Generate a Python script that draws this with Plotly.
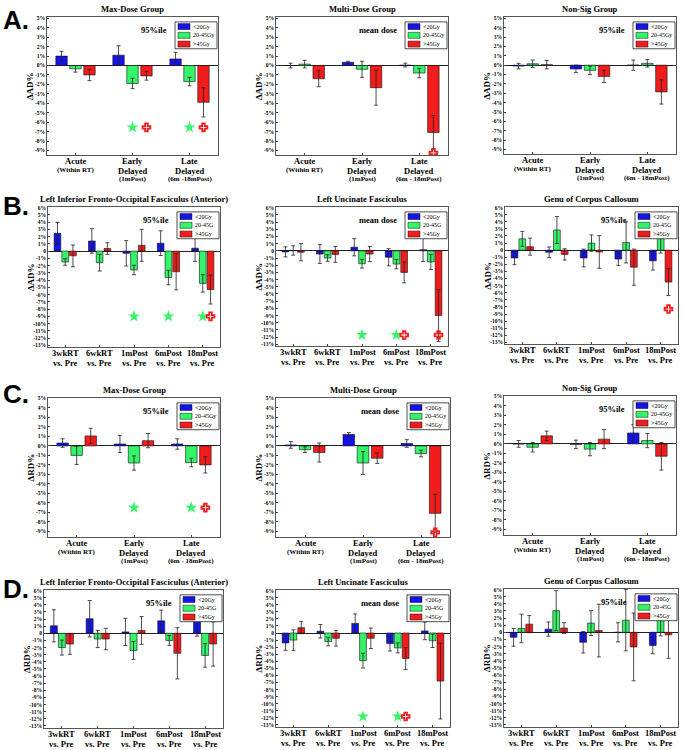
import plotly.graph_objects as go

W, H = 684, 750
SERIF = "Liberation Serif"
SANS = "Liberation Sans"
BLUE, GREEN, RED = "#1414e6", "#36f46a", "#f21c1c"

# ---------------- categories / tick labels (one list of lines per category) ----------------
phase_ticks = [["Acute", "(Within RT)"],
               ["Early", "Delayed", "(1mPost)"],
               ["Late", "Delayed", "(6m - 18mPost)"]]
phase_ticks_a1 = [["Acute", "(Within RT)"],
                  ["Early", "Delayed", "(1mPost)"],
                  ["Late", "Delayed", "(6m -18mPost)"]]
time_ticks = [["3wkRT", "vs. Pre"], ["6wkRT", "vs. Pre"], ["1mPost", "vs. Pre"],
              ["6mPost", "vs. Pre"], ["18mPost", "vs. Pre"]]
legend_labels_ac = ["<20Gy", "20-45Gy", ">45Gy"]
legend_labels_bd = ["<20Gy", "20-45G", ">45Gy"]

# ---------------- data: A row (ΔAD%, dose groups) ----------------
A1_lt20 = [1.0, 1.1, 0.7];      A1_lt20_err = [0.5, 1.0, 0.7]
A1_mid = [-0.35, -1.9, -1.7];   A1_mid_err = [0.35, 0.55, 0.45]
A1_gt45 = [-1.0, -1.1, -3.9];   A1_gt45_err = [0.6, 0.45, 1.55]
A1_sig_green = [2, 3]; A1_sig_red = [2, 3]; A1_sig_level = -6.55

A2_lt20 = [0.0, 0.35, 0.05];    A2_lt20_err = [0.25, 0.1, 0.2]
A2_mid = [0.15, -0.4, -0.8];    A2_mid_err = [0.4, 0.85, 0.5]
A2_gt45 = [-1.4, -2.35, -7.1];  A2_gt45_err = [0.85, 1.85, 1.8]
A2_sig_green = []; A2_sig_red = [3]; A2_sig_level = -9.25

A3_lt20 = [-0.1, -0.4, 0.0];    A3_lt20_err = [0.3, 0.4, 0.55]
A3_mid = [0.15, -0.55, 0.2];    A3_mid_err = [0.4, 0.45, 0.4]
A3_gt45 = [0.05, -1.2, -2.85];  A3_gt45_err = [0.45, 0.65, 1.3]
A3_sig_green = []; A3_sig_red = []; A3_sig_level = 0

# ---------------- data: B row (ΔAD%, tracts) ----------------
B1_lt20 = [2.45, 1.4, -0.3, 1.1, 0.4];      B1_lt20_err = [1.5, 1.7, 1.75, 1.7, 1.8]
B1_mid = [-1.5, -1.6, -2.6, -3.65, -4.45];  B1_mid_err = [0.45, 1.15, 0.65, 1.0, 1.2]
B1_gt45 = [-0.65, 0.35, 0.8, -2.85, -5.3];  B1_gt45_err = [1.5, 0.8, 2.2, 2.5, 2.0]
B1_sig_green = [3, 4, 5]; B1_sig_red = [5]; B1_sig_level = -9.0

B2_lt20 = [-0.15, -0.45, 0.5, -0.9, 0.15];  B2_lt20_err = [0.7, 1.3, 1.2, 1.2, 1.65]
B2_mid = [0.05, -1.0, -1.8, -1.85, -1.55];  B2_mid_err = [0.65, 0.45, 0.6, 0.65, 1.05]
B2_gt45 = [-0.2, -0.5, -0.45, -3.0, -9.0];  B2_gt45_err = [1.2, 1.1, 1.05, 1.45, 3.6]
B2_sig_green = [3, 4]; B2_sig_red = [4, 5]; B2_sig_level = -11.7

B3_lt20 = [-1.1, -0.3, -1.1, -1.25, -1.5];  B3_lt20_err = [0.95, 0.75, 1.25, 0.9, 1.3]
B3_mid = [1.6, 2.85, 1.0, 1.1, 2.3];        B3_mid_err = [1.05, 1.9, 1.15, 2.9, 2.7]
B3_gt45 = [0.5, -0.6, -0.25, -2.4, -4.5];   B3_gt45_err = [1.2, 0.8, 2.3, 2.55, 1.9]
B3_sig_green = []; B3_sig_red = [5]; B3_sig_level = -8.3

# ---------------- data: C row (ΔRD%, dose groups) ----------------
C1_lt20 = [0.3, 0.2, 0.2];      C1_lt20_err = [0.45, 0.9, 0.55]
C1_mid = [-1.0, -1.8, -1.75];   C1_mid_err = [0.95, 0.75, 0.45]
C1_gt45 = [1.05, 0.55, -2.0];   C1_gt45_err = [0.8, 0.75, 0.85]
C1_sig_green = [2, 3]; C1_sig_red = [3]; C1_sig_level = -6.5

C2_lt20 = [0.1, 1.2, 0.25];     C2_lt20_err = [0.35, 0.2, 0.4]
C2_mid = [-0.4, -1.8, -0.8];    C2_mid_err = [0.3, 1.2, 0.35]
C2_gt45 = [-0.7, -1.3, -7.1];   C2_gt45_err = [1.0, 0.55, 2.0]
C2_sig_green = []; C2_sig_red = [3]; C2_sig_level = -9.1

C3_lt20 = [0.0, -0.05, 1.15];   C3_lt20_err = [0.35, 0.45, 0.9]
C3_mid = [-0.35, -0.55, 0.35];  C3_mid_err = [0.5, 0.7, 0.75]
C3_gt45 = [0.85, 0.5, -1.3];    C3_gt45_err = [0.5, 1.0, 1.45]
C3_sig_green = []; C3_sig_red = []; C3_sig_level = 0

# ---------------- data: D row (ΔRD%, tracts) ----------------
D1_lt20 = [1.05, 2.05, 0.2, 1.75, 2.2];     D1_lt20_err = [2.25, 2.55, 1.9, 1.5, 2.6]
D1_mid = [-2.0, -0.8, -2.4, -1.0, -3.1];    D1_mid_err = [1.05, 1.2, 1.25, 0.7, 1.65]
D1_gt45 = [-1.5, -0.8, 0.4, -2.8, -1.5];    D1_gt45_err = [1.45, 1.5, 1.95, 3.6, 3.1]
D1_sig_green = []; D1_sig_red = []; D1_sig_level = 0

D2_lt20 = [-1.4, 0.25, 1.35, -1.5, 0.3];    D2_lt20_err = [1.05, 0.95, 1.35, 1.05, 1.25]
D2_mid = [-1.0, -1.2, -3.9, -2.1, -1.1];    D2_mid_err = [1.45, 0.6, 1.05, 0.7, 0.95]
D2_gt45 = [0.75, -0.75, -0.75, -3.6, -6.8]; D2_gt45_err = [0.85, 1.1, 1.45, 1.55, 5.35]
D2_sig_green = [3, 4]; D2_sig_red = [4]; D2_sig_level = -11.8

D3_lt20 = [-0.7, 0.45, -1.4, 0.0, -1.85];   D3_lt20_err = [1.25, 1.0, 1.5, 1.35, 1.15]
D3_mid = [0.55, 3.05, 1.3, 1.7, 2.2];       D3_mid_err = [2.0, 2.8, 1.75, 4.3, 2.7]
D3_gt45 = [1.15, 0.6, 0.25, -2.05, -0.35];  D3_gt45_err = [1.2, 0.75, 3.7, 4.75, 3.3]
D3_sig_green = []; D3_sig_red = []; D3_sig_level = 0

# ---------------- panel layout (pixel boxes: left, right, top, bottom) ----------------
panels = [
    dict(box=(47, 218, 14, 153), ticks=phase_ticks_a1, title="Max-Dose Group", note="95%ile",
         yt="ΔAD%", yr=(-9.5, 5.15), ylo=-9, yhi=5, zero="0%", leg=legend_labels_ac,
         s=(A1_lt20, A1_lt20_err, A1_mid, A1_mid_err, A1_gt45, A1_gt45_err),
         sig=(A1_sig_green, A1_sig_red, A1_sig_level)),
    dict(box=(276, 448, 14, 153), ticks=phase_ticks, title="Multi-Dose Group", note="mean dose",
         yt="ΔAD%", yr=(-9.5, 5.15), ylo=-9, yhi=5, zero="0%", leg=legend_labels_ac,
         s=(A2_lt20, A2_lt20_err, A2_mid, A2_mid_err, A2_gt45, A2_gt45_err),
         sig=(A2_sig_green, A2_sig_red, A2_sig_level)),
    dict(box=(504, 676, 14, 152), ticks=phase_ticks, title="Non-Sig Group", note="95%ile",
         yt="ΔAD%", yr=(-9.5, 5.15), ylo=-9, yhi=5, zero="0%", leg=legend_labels_ac,
         s=(A3_lt20, A3_lt20_err, A3_mid, A3_mid_err, A3_gt45, A3_gt45_err),
         sig=(A3_sig_green, A3_sig_red, A3_sig_level)),
    dict(box=(48, 220, 205, 346), ticks=time_ticks, title="Left Inferior Fronto-Occipital Fasciculus (Anterior)",
         note="95%ile", yt="ΔAD%", yr=(-13.25, 6.1), ylo=-13, yhi=6, zero="0", leg=legend_labels_bd,
         s=(B1_lt20, B1_lt20_err, B1_mid, B1_mid_err, B1_gt45, B1_gt45_err),
         sig=(B1_sig_green, B1_sig_red, B1_sig_level)),
    dict(box=(276, 448, 205, 345), ticks=time_ticks, title="Left Uncinate Fasciculus", note="mean dose",
         yt="ΔAD%", yr=(-13.25, 6.1), ylo=-13, yhi=6, zero="0", leg=legend_labels_bd,
         s=(B2_lt20, B2_lt20_err, B2_mid, B2_mid_err, B2_gt45, B2_gt45_err),
         sig=(B2_sig_green, B2_sig_red, B2_sig_level)),
    dict(box=(505, 678, 205, 343), ticks=time_ticks, title="Genu of Corpus Callosum", note="95%ile",
         yt="ΔAD%", yr=(-13.25, 6.1), ylo=-13, yhi=6, zero="0", leg=legend_labels_bd,
         s=(B3_lt20, B3_lt20_err, B3_mid, B3_mid_err, B3_gt45, B3_gt45_err),
         sig=(B3_sig_green, B3_sig_red, B3_sig_level)),
    dict(box=(48, 220, 397, 537), ticks=phase_ticks, title="Max-Dose Group", note="95%ile",
         yt="ΔRD%", yr=(-9.6, 5.05), ylo=-9, yhi=5, zero="0%", leg=legend_labels_ac,
         s=(C1_lt20, C1_lt20_err, C1_mid, C1_mid_err, C1_gt45, C1_gt45_err),
         sig=(C1_sig_green, C1_sig_red, C1_sig_level)),
    dict(box=(276, 450, 397, 537), ticks=phase_ticks, title="Multi-Dose Group", note="mean dose",
         yt="ΔRD%", yr=(-9.6, 5.05), ylo=-9, yhi=5, zero="0%", leg=legend_labels_ac,
         s=(C2_lt20, C2_lt20_err, C2_mid, C2_mid_err, C2_gt45, C2_gt45_err),
         sig=(C2_sig_green, C2_sig_red, C2_sig_level)),
    dict(box=(504, 676, 395, 535), ticks=phase_ticks, title="Non-Sig Group", note="95%ile",
         yt="ΔRD%", yr=(-9.6, 5.05), ylo=-9, yhi=5, zero="0%", leg=legend_labels_ac,
         s=(C3_lt20, C3_lt20_err, C3_mid, C3_mid_err, C3_gt45, C3_gt45_err),
         sig=(C3_sig_green, C3_sig_red, C3_sig_level)),
    dict(box=(44, 223, 590, 729), ticks=time_ticks, title="Left Inferior Fronto-Occipital Fasciculus (Anterior)",
         note="95%ile", yt="ΔRD%", yr=(-13.3, 6.1), ylo=-13, yhi=6, zero="0", leg=legend_labels_bd,
         s=(D1_lt20, D1_lt20_err, D1_mid, D1_mid_err, D1_gt45, D1_gt45_err),
         sig=(D1_sig_green, D1_sig_red, D1_sig_level)),
    dict(box=(276, 450, 590, 728), ticks=time_ticks, title="Left Uncinate Fasciculus", note="mean dose",
         yt="ΔRD%", yr=(-13.3, 6.1), ylo=-13, yhi=6, zero="0", leg=legend_labels_bd,
         s=(D2_lt20, D2_lt20_err, D2_mid, D2_mid_err, D2_gt45, D2_gt45_err),
         sig=(D2_sig_green, D2_sig_red, D2_sig_level)),
    dict(box=(504, 678, 589, 728), ticks=time_ticks, title="Genu of Corpus Callosum", note="95%ile",
         yt="ΔRD%", yr=(-13.3, 6.1), ylo=-13, yhi=6, zero="0", leg=legend_labels_bd,
         s=(D3_lt20, D3_lt20_err, D3_mid, D3_mid_err, D3_gt45, D3_gt45_err),
         sig=(D3_sig_green, D3_sig_red, D3_sig_level)),
]

fig = go.Figure()
layout = {}
shapes = []
annots = []


def px(x):
    return x / W


def py(y):
    return 1 - y / H


MAIN_FS, SMALL_FS = 8.5, 7

for i, p in enumerate(panels, start=1):
    l, r, t, b = p["box"]
    sfx = "" if i == 1 else str(i)
    xr, yr_ = "x" + sfx, "y" + sfx
    n = len(p["ticks"])
    pitch = 0.245 if n == 3 else 0.225
    bw = 0.2 if n == 3 else 0.195
    cats = list(range(1, n + 1))
    vals = p["s"]
    for k, col in enumerate([BLUE, GREEN, RED]):
        fig.add_trace(go.Bar(
            x=cats, y=vals[2 * k], xaxis=xr, yaxis=yr_,
            width=bw, offset=(k - 1) * pitch - bw / 2,
            marker=dict(color=col, line=dict(color="#111", width=0.6)),
            error_y=dict(type="data", array=vals[2 * k + 1], color="#222",
                         thickness=0.8, width=2),
            showlegend=False, hoverinfo="skip"))
    g, rd, lev = p["sig"]
    if g:
        fig.add_trace(go.Scatter(x=list(g), y=[lev] * len(g), xaxis=xr, yaxis=yr_, mode="markers",
                                 marker=dict(symbol="star", size=9, color=GREEN,
                                             line=dict(width=0)),
                                 showlegend=False, hoverinfo="skip"))
    if rd:
        fig.add_trace(go.Scatter(x=[c + pitch for c in rd], y=[lev] * len(rd), xaxis=xr, yaxis=yr_,
                                 mode="markers",
                                 marker=dict(symbol="cross-open", size=6.5, color=RED,
                                             line=dict(width=1.8, color=RED)),
                                 showlegend=False, hoverinfo="skip"))

    yvals = list(range(p["ylo"], p["yhi"] + 1))
    ytext = [p["zero"] if v == 0 else f"{v}%" for v in yvals]
    layout["xaxis" + sfx] = dict(
        domain=[px(l), px(r)], anchor=yr_, range=[0.5, n + 0.5],
        tickvals=cats, showticklabels=False, ticks="inside", ticklen=2,
        tickcolor="#444", showline=True, mirror=True, linecolor="#555", linewidth=0.8,
        showgrid=False, zeroline=False)
    layout["yaxis" + sfx] = dict(
        domain=[py(b), py(t)], anchor=xr, range=list(p["yr"]),
        tickvals=yvals, ticktext=ytext, ticks="inside", ticklen=2, tickcolor="#444",
        showline=True, mirror=True, linecolor="#555", linewidth=0.8,
        showgrid=False, zeroline=True, zerolinecolor="#222", zerolinewidth=1,
        tickfont=dict(family=SERIF, size=5.5, color="black", weight="bold"))

    # category labels (multi-line, tight line spacing, one text per line)
    for c, lines in zip(cats, p["ticks"]):
        ycur = b + 1
        for j, txt in enumerate(lines):
            fs = SMALL_FS if txt.startswith("(") else MAIN_FS
            hgt = 1.14 * fs
            yc = ycur + hgt / 2
            annots.append(dict(x=c, y=py(yc), xref=xr, yref="paper",
                               text=txt, showarrow=False, xanchor="center", yanchor="middle",
                               borderpad=0,
                               font=dict(family=SERIF, size=fs, color="black", weight="bold")))
            ycur += hgt
    # title
    annots.append(dict(x=px((l + r) / 2), y=py(t - 1), xref="paper", yref="paper",
                       text=p["title"], showarrow=False, xanchor="center", yanchor="bottom",
                       font=dict(family=SERIF, size=8.5, color="black", weight="bold")))
    # y title
    annots.append(dict(x=px(l - 17), y=py((t + b) / 2), xref="paper", yref="paper",
                       text=p["yt"], showarrow=False, textangle=-90,
                       xanchor="center", yanchor="middle",
                       font=dict(family=SERIF, size=9, color="black", weight="bold")))
    # legend box
    lr = r - 1
    ll = lr - 42
    lt = t + 5
    lb = lt + 27
    shapes.append(dict(type="rect", xref="paper", yref="paper",
                       x0=px(ll), x1=px(lr), y0=py(lb), y1=py(lt),
                       fillcolor="white", line=dict(color="#222", width=0.8)))
    for k, col in enumerate([BLUE, GREEN, RED]):
        cy = lt + 4.7 + 8.8 * k
        shapes.append(dict(type="rect", xref="paper", yref="paper",
                           x0=px(ll + 3), x1=px(ll + 15), y0=py(cy + 3), y1=py(cy - 3),
                           fillcolor=col, line=dict(color="#111", width=0.5)))
        annots.append(dict(x=px(ll + 17), y=py(cy), xref="paper", yref="paper",
                           text=p["leg"][k], showarrow=False, xanchor="left", yanchor="middle",
                           borderpad=0,
                           font=dict(family=SERIF, size=6, color="black")))
    # note text
    annots.append(dict(x=px(ll - 6), y=py(lt + 8), xref="paper", yref="paper",
                       text=p["note"], showarrow=False, xanchor="right", yanchor="middle",
                       font=dict(family=SERIF, size=8.5, color="black", weight="bold")))

# panel letters
for letter, (lx, ly) in zip(["A.", "B.", "C.", "D."], [(1, 17), (1, 204), (1, 393), (1, 589)]):
    annots.append(dict(x=px(lx), y=py(ly), xref="paper", yref="paper", text=letter,
                       showarrow=False, xanchor="left", yanchor="middle",
                       font=dict(family=SANS, size=26, color="black", weight="bold")))

layout.update(dict(width=W, height=H, margin=dict(l=0, r=0, t=0, b=0),
                   paper_bgcolor="white", plot_bgcolor="white",
                   barmode="overlay", showlegend=False,
                   shapes=shapes, annotations=annots))
fig.update_layout(**layout)
fig.write_html("out.html", config={"displayModeBar": False},
               post_script="document.body.style.margin='0';document.body.style.overflow='hidden';")
